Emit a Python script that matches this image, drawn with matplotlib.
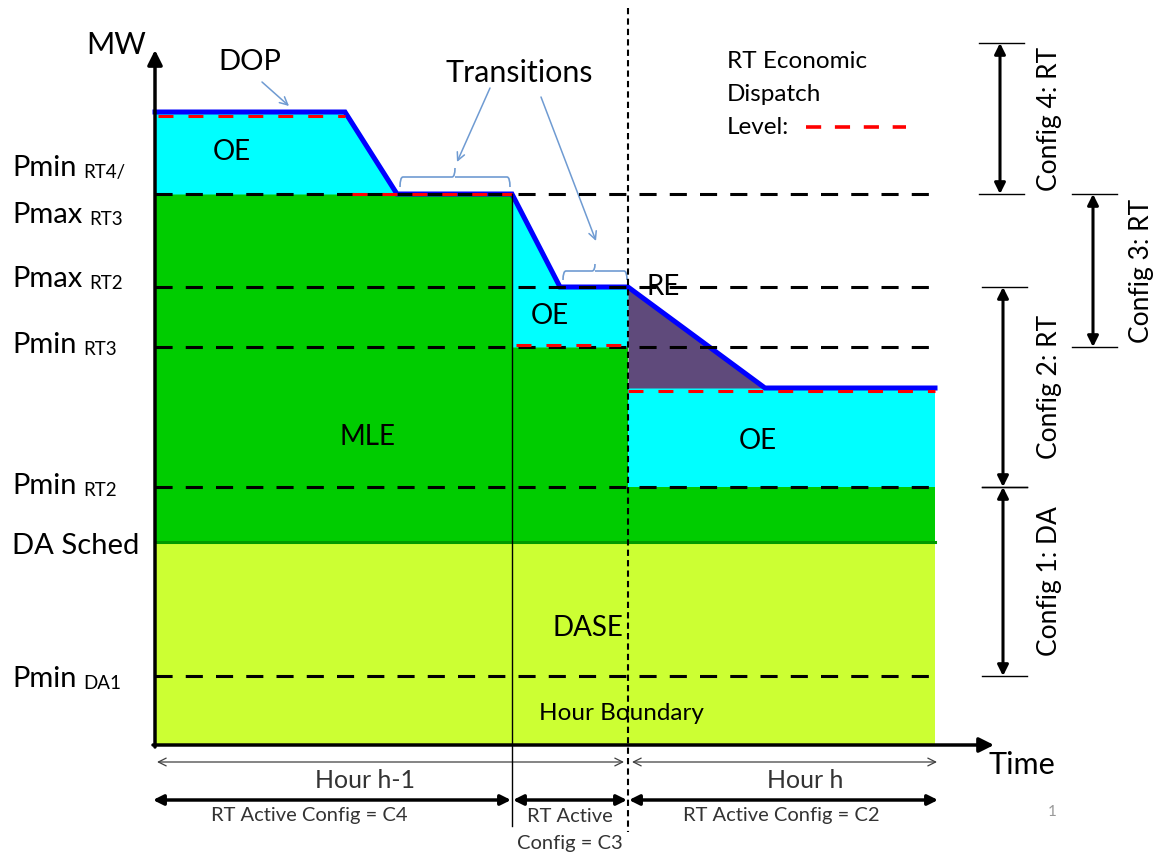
import numpy as np
import matplotlib.pyplot as plt
from matplotlib.path import Path
from matplotlib.patches import PathPatch

plt.rcParams['font.family'] = ['Lato', 'DejaVu Sans']

# diagram units: x = time position, y = MW level as screen rows (small = high MW)
# breakpoints along the time axis
t_start, t_ramp, t_flat1, t_c3, t_flat2, t_hour, t_flat3, t_end = 155, 345, 397, 512, 560, 628, 765, 935

# MW levels
lvl_dop = 112      # top of DOP
lvl_rt4 = 194      # Pmin RT4 / Pmax RT3
lvl_max2 = 287     # Pmax RT2
lvl_min3 = 347     # Pmin RT3
lvl_edh = 388      # RT ED level in hour h
lvl_min2 = 487     # Pmin RT2
lvl_da = 542       # DA Sched
lvl_da1 = 676      # Pmin DA1
lvl_zero = 745

# dispatch operating point (blue curve)
dop_x = [t_start, t_ramp, t_flat1, t_c3, t_flat2, t_hour, t_flat3, t_end]
dop_y = [lvl_dop, lvl_dop, lvl_rt4, lvl_rt4, lvl_max2, lvl_max2, lvl_edh, lvl_edh]

# RT economic dispatch level (red dashes): (x0, x1, level)
ed_segs = [(158, t_ramp, lvl_dop + 4), (352, t_c3, lvl_rt4), (516, t_hour, lvl_min3 - 2), (t_hour, t_end, lvl_edh + 3)]

# dashed reference levels
ref_levels = [lvl_rt4, lvl_max2, lvl_min3, lvl_min2, lvl_da1]

# left level labels
left_main = ['Pmin', 'Pmax', 'Pmax', 'Pmin', 'Pmin', 'DA Sched', 'Pmin']
left_sub = ['RT4/', 'RT3', 'RT2', 'RT3', 'RT2', '', 'DA1']
left_base = [176, 223, 287, 353, 494, 554, 687]

# config ranges on the right
cfg_names = ['Config 4: RT', 'Config 3: RT', 'Config 2: RT', 'Config 1: DA']
cfg_top = [43, lvl_rt4, lvl_max2, lvl_min2]
cfg_bot = [lvl_rt4, lvl_min3, lvl_min2, lvl_da1]
cfg_x = [1000, 1093, 1003, 1003]
cfg_tx = [1049, 1141, 1049, 1049]

# region labels
regions = [('OE', 232, 152), ('OE', 550, 316), ('OE', 758, 441), ('MLE', 367, 437),
           ('DASE', 588, 628), ('RE', 663, 287)]

c_cyan = '#00FFFF'
c_green = '#00CC00'
c_yel = '#CCFF33'
c_purple = '#5F4A7B'
c_note = '#6F9BD2'

fig = plt.figure(figsize=(11.64, 8.56), dpi=100)
ax = fig.add_axes([0, 0, 1, 1])
ax.set_xlim(0, 1164)
ax.set_ylim(856, 0)
ax.axis('off')

# filled areas
ax.fill_between([t_start, t_end], lvl_da, lvl_zero, color=c_yel, lw=0, zorder=1)
for x0, x1, top in [(t_start, t_c3, lvl_rt4), (t_c3, t_hour, lvl_min3), (t_hour, t_end, lvl_min2)]:
    ax.fill_between([x0, x1], top, lvl_da, color=c_green, lw=0, zorder=1)

dx = np.array(dop_x, dtype=float)
dy = np.array(dop_y, dtype=float)
m1 = dx <= t_c3
ax.fill_between(dx[m1], dy[m1], lvl_rt4, color=c_cyan, lw=0, zorder=1)
m2 = (dx >= t_c3) & (dx <= t_hour)
ax.fill_between(dx[m2], dy[m2], lvl_min3, color=c_cyan, lw=0, zorder=1)
ax.fill_between([t_hour, t_end], lvl_edh, lvl_min2, color=c_cyan, lw=0, zorder=1)
m3 = (dx >= t_hour) & (dx <= t_flat3)
ax.fill_between(dx[m3], dy[m3], lvl_edh, color=c_purple, lw=0, zorder=1)

ax.plot([t_start, t_end], [lvl_da, lvl_da], color='#009900', lw=2.2, zorder=2)

# blue DOP curve
ax.plot(dop_x, dop_y, color='#0000FF', lw=3.6, solid_joinstyle='miter', zorder=3)

# dashed reference levels
for y in ref_levels:
    ax.plot([t_start, t_end], [y, y], color='black', lw=2.2, dashes=(5.6, 4.3), zorder=4)

# RT ED level
for x0, x1, y in ed_segs:
    ax.plot([x0, x1], [y, y], color='#FF0000', lw=2.2, dashes=(4.9, 4.9), zorder=5)

# vertical markers
ax.plot([t_c3, t_c3], [lvl_rt4, 826], color='black', lw=1.0, zorder=5)
ax.plot([t_hour, t_hour], [8, 832], color='black', lw=1.5, dashes=(3, 2), zorder=5)

# axes with arrows
ax.annotate('', xy=(155, 50), xytext=(155, 747),
            arrowprops=dict(arrowstyle='-|>', lw=2.5, color='black', mutation_scale=22, shrinkA=0, shrinkB=0), zorder=6)
ax.annotate('', xy=(994, 745), xytext=(153, 745),
            arrowprops=dict(arrowstyle='-|>', lw=2.5, color='black', mutation_scale=22, shrinkA=0, shrinkB=0), zorder=6)
ax.text(116, 45, 'MW', fontsize=22, ha='center', va='center')
ax.text(1022, 765, 'Time', fontsize=22, ha='center', va='center')

# left labels with subscripts
for main, sub, yb in zip(left_main, left_sub, left_base):
    t = ax.text(12, yb, main, fontsize=21, ha='left', va='baseline')
    if sub:
        ax.annotate(sub, xy=(1, 0), xycoords=t, xytext=(5, 0), textcoords='offset points',
                    fontsize=13.5, ha='left', va='bottom')

# region labels
for s, x, y in regions:
    ax.text(x, y, s, fontsize=20, ha='center', va='center', zorder=7)
ax.text(621, 714, 'Hour Boundary', fontsize=17.5, ha='center', va='center', zorder=7)

# DOP / Transitions notes
ax.text(250, 62, 'DOP', fontsize=21, ha='center', va='center')
ax.text(519, 73, 'Transitions', fontsize=22, ha='center', va='center')
note_kw = dict(arrowstyle='->', color=c_note, lw=1.1, mutation_scale=14, shrinkA=0, shrinkB=0)
ax.annotate('', xy=(289, 106), xytext=(262, 82), arrowprops=note_kw)
ax.annotate('', xy=(457, 162), xytext=(490, 88), arrowprops=note_kw)
ax.annotate('', xy=(596, 241), xytext=(541, 97), arrowprops=note_kw)


def brace(x0, x1, y_end, y_bar, y_tip):
    xm = (x0 + x1) / 2
    r = 3
    verts = [(x0, y_end), (x0, y_bar), (x0 + r, y_bar),
             (xm - r, y_bar), (xm, y_bar), (xm, y_tip),
             (xm, y_bar), (xm + r, y_bar),
             (x1 - r, y_bar), (x1, y_bar), (x1, y_end)]
    codes = [Path.MOVETO, Path.CURVE3, Path.CURVE3,
             Path.LINETO, Path.CURVE3, Path.CURVE3,
             Path.MOVETO, Path.LINETO,
             Path.LINETO, Path.CURVE3, Path.CURVE3]
    ax.add_patch(PathPatch(Path(verts, codes), fill=False, edgecolor=c_note, lw=1.2))


brace(400, 510, 187, 177, 168)
brace(563, 627, 280, 271, 264)

# legend for RT economic dispatch
ax.text(727, 61, 'RT Economic', fontsize=17.5, ha='left', va='center')
ax.text(727, 94, 'Dispatch', fontsize=17.5, ha='left', va='center')
ax.text(727, 127, 'Level:', fontsize=17.5, ha='left', va='center')
ax.plot([806, 906], [127, 127], color='#FF0000', lw=2.6, dashes=(4.2, 3.8))

# config ranges
for name, y0, y1, x, tx in zip(cfg_names, cfg_top, cfg_bot, cfg_x, cfg_tx):
    ax.plot([x - 21, x + 24], [y0, y0], color='black', lw=1.0)
    ax.plot([x - 21, x + 24], [y1, y1], color='black', lw=1.0)
    ax.annotate('', xy=(x, y0), xytext=(x, y1),
                arrowprops=dict(arrowstyle='<|-|>', color='black', lw=2.2, mutation_scale=16,
                                shrinkA=0, shrinkB=0))
    ax.text(tx, (y0 + y1) / 2, name, fontsize=19, rotation=90, ha='center', va='center')

# hour spans
thin_kw = dict(arrowstyle='<->', color='#404040', lw=0.9, mutation_scale=14, shrinkA=0, shrinkB=0)
ax.annotate('', xy=(157, 762), xytext=(624, 762), arrowprops=thin_kw)
ax.annotate('', xy=(632, 762), xytext=(937, 762), arrowprops=thin_kw)
ax.text(365, 781, 'Hour h-1', fontsize=18, ha='center', va='center', color='#333333')
ax.text(805, 781, 'Hour h', fontsize=18, ha='center', va='center', color='#333333')

# active config spans
thick_kw = dict(arrowstyle='<|-|>', color='black', lw=2.5, mutation_scale=15, shrinkA=0, shrinkB=0)
ax.annotate('', xy=(153, 800), xytext=(511, 800), arrowprops=thick_kw)
ax.annotate('', xy=(513, 800), xytext=(627, 800), arrowprops=thick_kw)
ax.annotate('', xy=(629, 800), xytext=(938, 800), arrowprops=thick_kw)
ax.text(309, 815, 'RT Active Config = C4', fontsize=14.5, ha='center', va='center', color='#333333')
ax.text(570, 816, 'RT Active', fontsize=14.5, ha='center', va='center', color='#333333')
ax.text(570, 843, 'Config = C3', fontsize=14.5, ha='center', va='center', color='#333333')
ax.text(781, 815, 'RT Active Config = C2', fontsize=14.5, ha='center', va='center', color='#333333')
ax.text(1052, 812, '1', fontsize=11, ha='center', va='center', color='#999999')

fig.savefig('out.png', dpi=100)
